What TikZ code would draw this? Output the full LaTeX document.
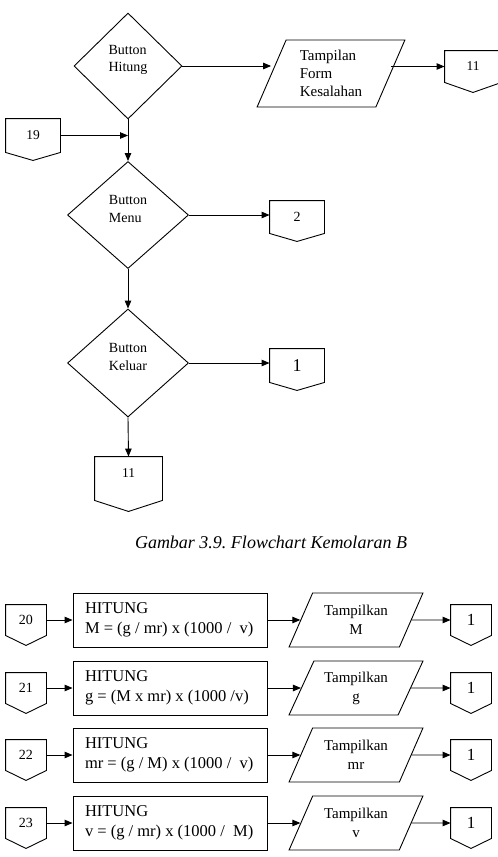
\documentclass[tikz,border=0pt]{standalone}
\usepackage{fontspec}
\setmainfont{Liberation Serif}
\usetikzlibrary{shapes.geometric, arrows.meta}
\frenchspacing

% off-page connector outline around a named node: #1 node, #2 depth of the point
\newcommand{\pagelink}[2]{%
  \draw (#1.north west) -- (#1.north east) -- (#1.south east)
    -- ([yshift=-#2]#1.south) -- (#1.south west) -- cycle;}

\begin{document}
\begin{tikzpicture}[x=1pt, y=-1pt, line width=0.9pt,
    arr/.style={-{Triangle[length=8pt,width=6.5pt]}},
    decision/.style={diamond, draw, inner sep=0pt},
    dlabel/.style={align=left, font=\fontsize{14}{17.7}\selectfont, yshift=6pt},
    io/.style={trapezium, trapezium stretches=true, draw, align=center},
    link/.style={inner sep=0pt},
    num/.style={link, minimum width=40pt, minimum height=30pt, font=\fontsize{14}{16}\selectfont},
    one/.style={link, minimum width=40pt, minimum height=30pt, font=\fontsize{17}{20}\selectfont},
    hitungbox/.style={draw, align=flush left, text width=170pt, inner xsep=12pt, inner ysep=0pt,
      minimum width=194pt, minimum height=54pt, font=\fontsize{16.5}{20}\selectfont},
    tampil/.style={io, trapezium left angle=62, trapezium right angle=118,
      minimum width=134pt, minimum height=54pt, font=\fontsize{15}{19}\selectfont}]
  \useasboundingbox (0,0) rectangle (498,857);

  % Button Hitung and the error form
  \node[decision, minimum width=108pt, minimum height=106pt,
    label={[dlabel]center:Button\\Hitung}] (hitung) at (128,66) {};
  \node[io, trapezium left angle=67, trapezium right angle=113, minimum width=148pt,
    minimum height=67pt, align=left, font=\fontsize{15}{17.7}\selectfont] (salah) at (331,73.5)
    {Tampilan\\Form\\Kesalahan};
  \node[link, minimum width=56pt, minimum height=31pt, font=\fontsize{13.5}{16}\selectfont] (out11) at (473,66.5) {11};
  \pagelink{out11}{10pt}
  \draw[arr] (hitung.east) -- (hitung.east -| salah.west);
  \draw[arr] (salah.east |- out11.west) -- (out11.west);

  % connector 19 joins the main line
  \node[link, minimum width=54pt, minimum height=33pt, font=\fontsize{13.5}{16}\selectfont] (in19) at (33,135.5) {19};
  \pagelink{in19}{8pt}
  \draw[arr] (in19.east) -- (in19.east -| hitung.south);

  % Button Menu
  \node[decision, minimum width=121pt, minimum height=107pt,
    label={[dlabel]center:Button\\Menu}] (menu) at (128,215) {};
  \draw[arr] (hitung.south) -- (menu.north);
  \node[link, minimum width=54pt, minimum height=32pt, font=\fontsize{14}{16}\selectfont] (out2) at (297,217) {2};
  \pagelink{out2}{8pt}
  \draw[arr] (menu.east) -- (menu.east -| out2.west);

  % Button Keluar
  \node[decision, minimum width=121pt, minimum height=108pt,
    label={[dlabel]center:Button\\Keluar}] (keluar) at (128,363) {};
  \draw[arr] (menu.south) -- (keluar.north);
  \node[link, minimum width=54pt, minimum height=33pt, font=\fontsize{18}{20}\selectfont] (out1) at (297,365.5) {1};
  \pagelink{out1}{8pt}
  \draw[arr] (keluar.east) -- (keluar.east -| out1.west);
  \node[link, minimum width=67pt, minimum height=43pt, text height=9pt, text depth=11pt,
    font=\fontsize{13.5}{16}\selectfont] (end11) at (128.5,478.5) {11};
  \pagelink{end11}{11pt}
  \draw[arr] (keluar.south) -- (end11.north);

  % caption
  \node[font=\fontsize{18}{22}\selectfont\itshape] (judul) at (271,542) {Gambar 3.9. Flowchart Kemolaran B};

  % row 20: molarity M
  \node[num] (in20) at (26,620) {20};
  \node[hitungbox] (rumus20) at (170,620) {HITUNG\\M = (g / mr) x (1000 /~ v)};
  \node[tampil] (tampil20) at (356,620) {Tampilkan\\M};
  \node[one] (out20) at (471,620) {1};
  \pagelink{in20}{10pt}
  \pagelink{out20}{10pt}
  \draw[arr] (in20) -- (rumus20);
  \draw[arr] (rumus20) -- (tampil20);
  \draw[arr] (tampil20) -- (out20);

  % row 21: mass g
  \node[num] (in21) at (26,688) {21};
  \node[hitungbox] (rumus21) at (170,688) {HITUNG\\g = (M x mr) x (1000 /v)};
  \node[tampil] (tampil21) at (356,688) {Tampilkan\\g};
  \node[one] (out21) at (471,688) {1};
  \pagelink{in21}{10pt}
  \pagelink{out21}{10pt}
  \draw[arr] (in21) -- (rumus21);
  \draw[arr] (rumus21) -- (tampil21);
  \draw[arr] (tampil21) -- (out21);

  % row 22: molar mass mr
  \node[num] (in22) at (26,755) {22};
  \node[hitungbox] (rumus22) at (170,755) {HITUNG\\mr = (g / M) x (1000 /~ v)};
  \node[tampil] (tampil22) at (356,755) {Tampilkan\\mr};
  \node[one] (out22) at (471,755) {1};
  \pagelink{in22}{10pt}
  \pagelink{out22}{10pt}
  \draw[arr] (in22) -- (rumus22);
  \draw[arr] (rumus22) -- (tampil22);
  \draw[arr] (tampil22) -- (out22);

  % row 23: volume v
  \node[num] (in23) at (26,823) {23};
  \node[hitungbox] (rumus23) at (170,823) {HITUNG\\v = (g / mr) x (1000 /~ M)};
  \node[tampil] (tampil23) at (356,823) {Tampilkan\\v};
  \node[one] (out23) at (471,823) {1};
  \pagelink{in23}{10pt}
  \pagelink{out23}{10pt}
  \draw[arr] (in23) -- (rumus23);
  \draw[arr] (rumus23) -- (tampil23);
  \draw[arr] (tampil23) -- (out23);
\end{tikzpicture}
\end{document}
